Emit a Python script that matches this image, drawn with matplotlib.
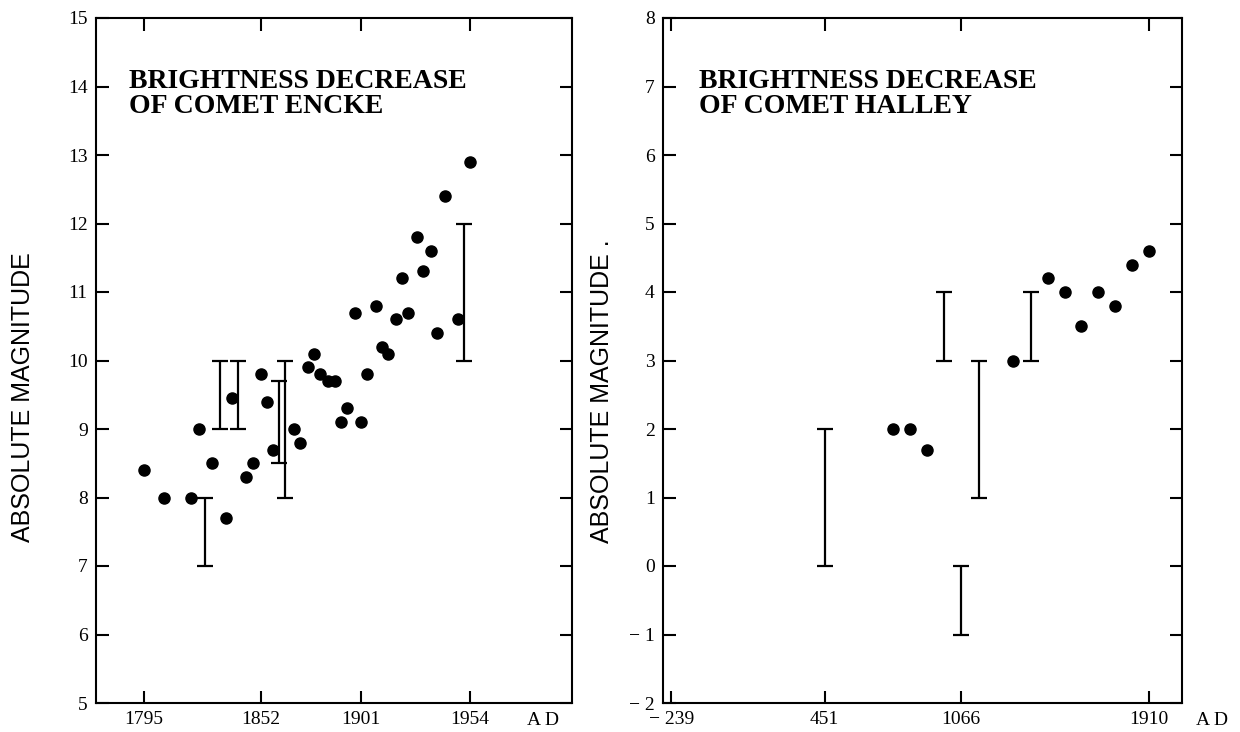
import matplotlib
matplotlib.use("Agg")
import matplotlib.pyplot as plt
import numpy as np

# comet Encke: single estimates
encke_year = [1795, 1805, 1818, 1822, 1828, 1835, 1838, 1845, 1848, 1852,
              1855, 1858, 1868, 1871, 1875, 1878, 1881, 1885, 1888, 1891,
              1894, 1898, 1901, 1904, 1908, 1911, 1914, 1918, 1921, 1924,
              1928, 1931, 1935, 1938, 1942, 1948, 1954]
encke_mag = [8.4, 8.0, 8.0, 9.0, 8.5, 7.7, 9.45, 8.3, 8.5, 9.8,
             9.4, 8.7, 9.0, 8.8, 9.9, 10.1, 9.8, 9.7, 9.7, 9.1,
             9.3, 10.7, 9.1, 9.8, 10.8, 10.2, 10.1, 10.6, 11.2, 10.7,
             11.8, 11.3, 11.6, 10.4, 12.4, 10.6, 12.9]
# comet Encke: ranges
encke_rng_year = [1825, 1832, 1841, 1861, 1864, 1951]
encke_rng_lo = [7.0, 9.0, 9.0, 8.5, 8.0, 10.0]
encke_rng_hi = [8.0, 10.0, 10.0, 9.7, 10.0, 12.0]

# comet Halley
halley_year = [760, 837, 912, 1301, 1456, 1531, 1607, 1682, 1759, 1835, 1910]
halley_mag = [2.0, 2.0, 1.7, 3.0, 4.2, 4.0, 3.5, 4.0, 3.8, 4.4, 4.6]
halley_rng_year = [451, 989, 1066, 1145, 1378]
halley_rng_lo = [0.0, 3.0, -1.0, 1.0, 3.0]
halley_rng_hi = [2.0, 4.0, 0.0, 3.0, 4.0]

encke_xticks = [1795, 1852, 1901, 1954]
halley_xticks = [-239, 451, 1066, 1910]
halley_xlabels = ["\u2212 239", "451", "1066", "1910"]

serif = "Liberation Serif"
sans = "Liberation Sans"

fig = plt.figure(figsize=(12.4, 7.32), dpi=100)
ax1 = fig.add_axes([96 / 1240, 1 - 703 / 732, 476 / 1240, 685 / 732])
ax2 = fig.add_axes([663 / 1240, 1 - 703 / 732, 519 / 1240, 685 / 732])


def draw(ax, yr, mag, ryr, lo, hi):
    lo = np.array(lo)
    hi = np.array(hi)
    ax.errorbar(ryr, (lo + hi) / 2, yerr=(hi - lo) / 2, fmt="none",
                ecolor="black", elinewidth=1.6, capsize=6, capthick=1.6)
    ax.plot(yr, mag, "o", color="black", ms=8)
    for s in ax.spines.values():
        s.set_linewidth(1.5)
    ax.tick_params(direction="in", length=9, width=1.5, top=True, right=True,
                   labelsize=14, pad=6)
    for lab in ax.get_xticklabels() + ax.get_yticklabels():
        lab.set_fontfamily(serif)


ax1.set_xlim(1771.6, 2003.8)
ax1.set_ylim(5, 15)
ax1.set_xticks(encke_xticks)
ax1.set_yticks(range(5, 16))
draw(ax1, encke_year, encke_mag, encke_rng_year, encke_rng_lo, encke_rng_hi)
ax1.set_ylabel("ABSOLUTE MAGNITUDE", family=sans, fontsize=18)
ax1.yaxis.set_label_coords(-0.128, 0.447)
ax1.text(0.07, 0.925, "BRIGHTNESS DECREASE\nOF COMET ENCKE", transform=ax1.transAxes,
         family=serif, fontweight="bold", fontsize=20, va="top", linespacing=1.0)
ax1.text(0.939, -0.025, "A D", transform=ax1.transAxes, family=serif, fontsize=14,
         ha="center", va="center")

ax2.set_xlim(-277, 2060)
ax2.set_ylim(-2, 8)
ax2.set_xticks(halley_xticks)
ax2.set_xticklabels(halley_xlabels)
ax2.set_yticks(range(-2, 9))
ax2.set_yticklabels([str(v).replace("-", "\u2212 ") for v in range(-2, 9)])
draw(ax2, halley_year, halley_mag, halley_rng_year, halley_rng_lo, halley_rng_hi)
ax2.set_ylabel("ABSOLUTE MAGNITUDE .", family=sans, fontsize=18)
ax2.yaxis.set_label_coords(-0.094, 0.455)
ax2.text(0.07, 0.925, "BRIGHTNESS DECREASE\nOF COMET HALLEY", transform=ax2.transAxes,
         family=serif, fontweight="bold", fontsize=20, va="top", linespacing=1.0)
ax2.text(1.058, -0.025, "A D", transform=ax2.transAxes, family=serif, fontsize=14,
         ha="center", va="center")

fig.savefig("out.png", dpi=100)
